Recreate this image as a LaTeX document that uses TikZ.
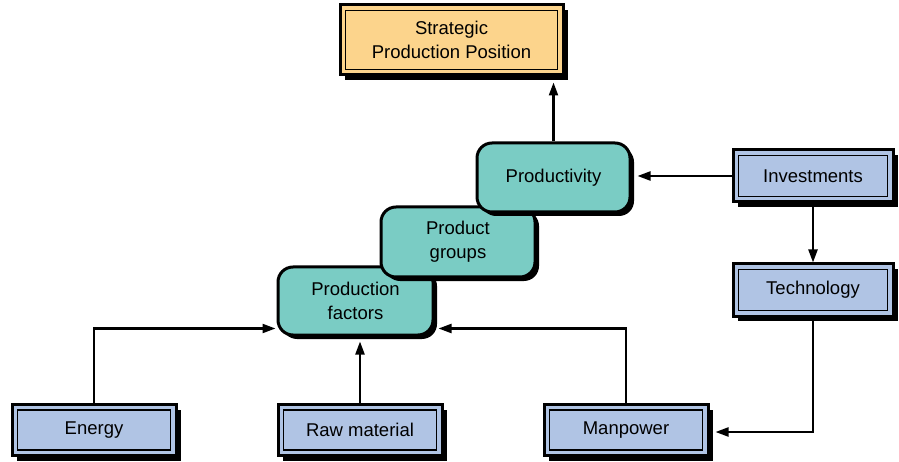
\documentclass[tikz,border=0pt]{standalone}
\usepackage{fontspec}
\setmainfont{Liberation Sans}
\usetikzlibrary{arrows.meta,shadows}
\definecolor{goalfill}{RGB}{252,212,140}
\definecolor{inputfill}{RGB}{176,196,228}
\definecolor{stagefill}{RGB}{122,204,196}
\tikzset{
  label font/.style={font=\fontsize{18.5}{24}\selectfont, align=center, text=black},
  framedbox/.style={label font, draw=black, line width=3pt, rectangle,
    inner sep=0pt,
    drop shadow={shadow xshift=5pt, shadow yshift=-5pt, fill=black, opacity=1},
    path picture={\draw[line width=1.3pt]
      ([shift={(5.5pt,5.5pt)}]path picture bounding box.south west) rectangle
      ([shift={(-5.5pt,-5.5pt)}]path picture bounding box.north east);}},
  goalbox/.style={framedbox, fill=goalfill},
  inputbox/.style={framedbox, fill=inputfill},
  stagebox/.style={label font, draw=black, line width=3pt, fill=stagefill,
    rounded corners=15pt, inner sep=0pt,
    drop shadow={shadow xshift=4pt, shadow yshift=-4pt, fill=black, opacity=1}},
  arr/.style={line width=2.2pt, -{Triangle[length=13pt,width=9pt]}}
}
\begin{document}
\begin{tikzpicture}[x=1pt,y=-1pt]
\useasboundingbox (0,0) rectangle (899,462);

% goal
\node[goalbox, minimum width=223pt, minimum height=70pt] (goal) at (451.5,40)
  {Strategic\\Production Position};

% stepped stages, lowest first so higher ones lie on top
\node[stagebox, minimum width=155pt, minimum height=68pt] (factors) at (355.5,301)
  {Production\\factors};
\node[stagebox, minimum width=154pt, minimum height=70pt] (groups) at (458,242)
  {Product\\groups};
\node[stagebox, minimum width=153pt, minimum height=69pt] (prod) at (553.5,177.5)
  {Productivity};

% inputs
\node[inputbox, minimum width=160pt, minimum height=52pt] (invest) at (813,176) {Investments};
\node[inputbox, minimum width=160pt, minimum height=52pt] (tech) at (813,290) {Technology};
\node[inputbox, minimum width=164pt, minimum height=51pt] (energy) at (94,430) {Energy};
\node[inputbox, minimum width=164pt, minimum height=51pt] (raw) at (360,430) {Raw material};
\node[inputbox, minimum width=164pt, minimum height=51pt] (man) at (626,430) {Manpower};

% connectors
\draw[arr] (prod.north) -- ([yshift=-6pt]prod.north |- goal.south);
\draw[arr] (invest.west) -- ([xshift=6pt]invest.west -| prod.east);
\draw[arr] (invest.south) -- (tech.north);
\draw[arr] (tech.south) |- ([xshift=6pt,yshift=-2pt]man.east);
\draw[arr] (energy.north) |- ([xshift=-1pt,yshift=8pt]factors.south west);
\draw[arr] (raw.north) -- ([yshift=-5pt]raw.north |- factors.south);
\draw[arr] (man.north) |- ([xshift=4pt,yshift=8pt]factors.south east);
\end{tikzpicture}
\end{document}
